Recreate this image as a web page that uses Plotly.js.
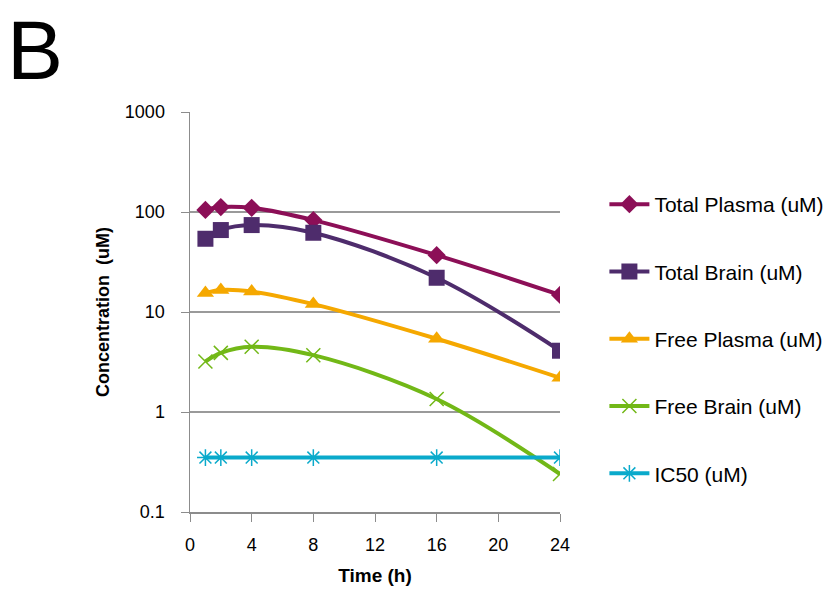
<!DOCTYPE html>
<html>
<head>
<meta charset="utf-8">
<script src="https://cdn.plot.ly/plotly-3.0.1.min.js"></script>
<style>html,body{margin:0;padding:0;background:#fff;}#chart{width:831px;height:590px;}</style>
</head>
<body>
<div id="chart"></div>
<script>
const timeH = [1, 2, 4, 8, 16, 24];
const totalPlasma = [105, 112, 110, 83, 37, 14.8];
const totalBrain = [54, 66, 74, 62, 22, 4.1];
const freePlasma = [15.5, 16.6, 16, 12, 5.4, 2.2];
const freeBrain = [3.2, 3.9, 4.5, 3.7, 1.35, 0.24];
const ic50 = [0.35, 0.35, 0.35, 0.35, 0.35, 0.35];
const seriesNames = ["Total Plasma (uM)", "Total Brain (uM)", "Free Plasma (uM)", "Free Brain (uM)", "IC50 (uM)"];
const xTicks = [0, 4, 8, 12, 16, 20, 24];
const yTicks = [0.1, 1, 10, 100, 1000];
const yTickText = ["0.1", "1", "10", "100", "1000"];

const colors = ["#8C0F57", "#4E2C6C", "#F5A800", "#72B817", "#0AAACB"];
const symbols = ["diamond", "square", "triangle-up", "x-thin-open", "asterisk-open"];
const sizes = [14, 16, 15, 14, 14];
const seriesData = [totalPlasma, totalBrain, freePlasma, freeBrain, ic50];

const traces = seriesData.map((ys, i) => ({
  x: timeH, y: ys, name: seriesNames[i], type: "scatter", mode: "lines+markers",
  legendgroup: "g" + i,
  line: {color: colors[i], width: 4, shape: "spline", smoothing: 1},
  marker: {symbol: symbols[i], size: sizes[i], color: colors[i],
           line: {color: i >= 3 ? (i === 3 ? "#9AD04A" : "#2EC0E0") : colors[i], width: i >= 3 ? 1.5 : 0}}
}));

const layout = {
  width: 831, height: 590,
  margin: {l: 190, r: 271, t: 112, b: 78, autoexpand: false},
  paper_bgcolor: "#ffffff", plot_bgcolor: "#ffffff",
  font: {family: "Liberation Sans, Arial, sans-serif", color: "#000"},
  showlegend: true,
  legend: {x: 1.12, xanchor: "left", y: 0.82, yanchor: "top", tracegroupgap: 37,
           font: {size: 21, color: "#000"}, itemwidth: 40, bgcolor: "rgba(0,0,0,0)"},
  xaxis: {
    range: [0, 24], tickvals: xTicks, ticktext: xTicks.map(String),
    showgrid: false, zeroline: false, showline: true, linecolor: "#8C8C8C", linewidth: 1.5,
    ticks: "outside", ticklen: 8, tickcolor: "#8C8C8C", ticklabelstandoff: 8,
    tickfont: {size: 18, color: "#000"},
    title: {text: "<b>Time (h)</b>", font: {size: 19, color: "#000"}, standoff: 14}
  },
  yaxis: {
    type: "log", range: [-1, 3], tickvals: yTicks, ticktext: yTickText,
    showgrid: true, gridcolor: "#9A9A9A", gridwidth: 1.3, zeroline: false,
    showline: true, linecolor: "#8C8C8C", linewidth: 1.5,
    ticks: "outside", ticklen: 8, tickcolor: "#8C8C8C", ticklabelstandoff: 12,
    tickfont: {size: 18, color: "#000"},
    title: {text: "<b>Concentration  (uM)</b>", font: {size: 18, color: "#000"}, standoff: 10}
  },
  annotations: [{
    text: "B", xref: "paper", yref: "paper", x: -0.5, y: 1.155,
    xanchor: "left", yanchor: "middle", showarrow: false,
    font: {size: 84, color: "#000", family: "Liberation Sans, Arial, sans-serif"}
  }]
};

Plotly.newPlot("chart", traces, layout, {displayModeBar: false, staticPlot: true});
</script>
</body>
</html>
